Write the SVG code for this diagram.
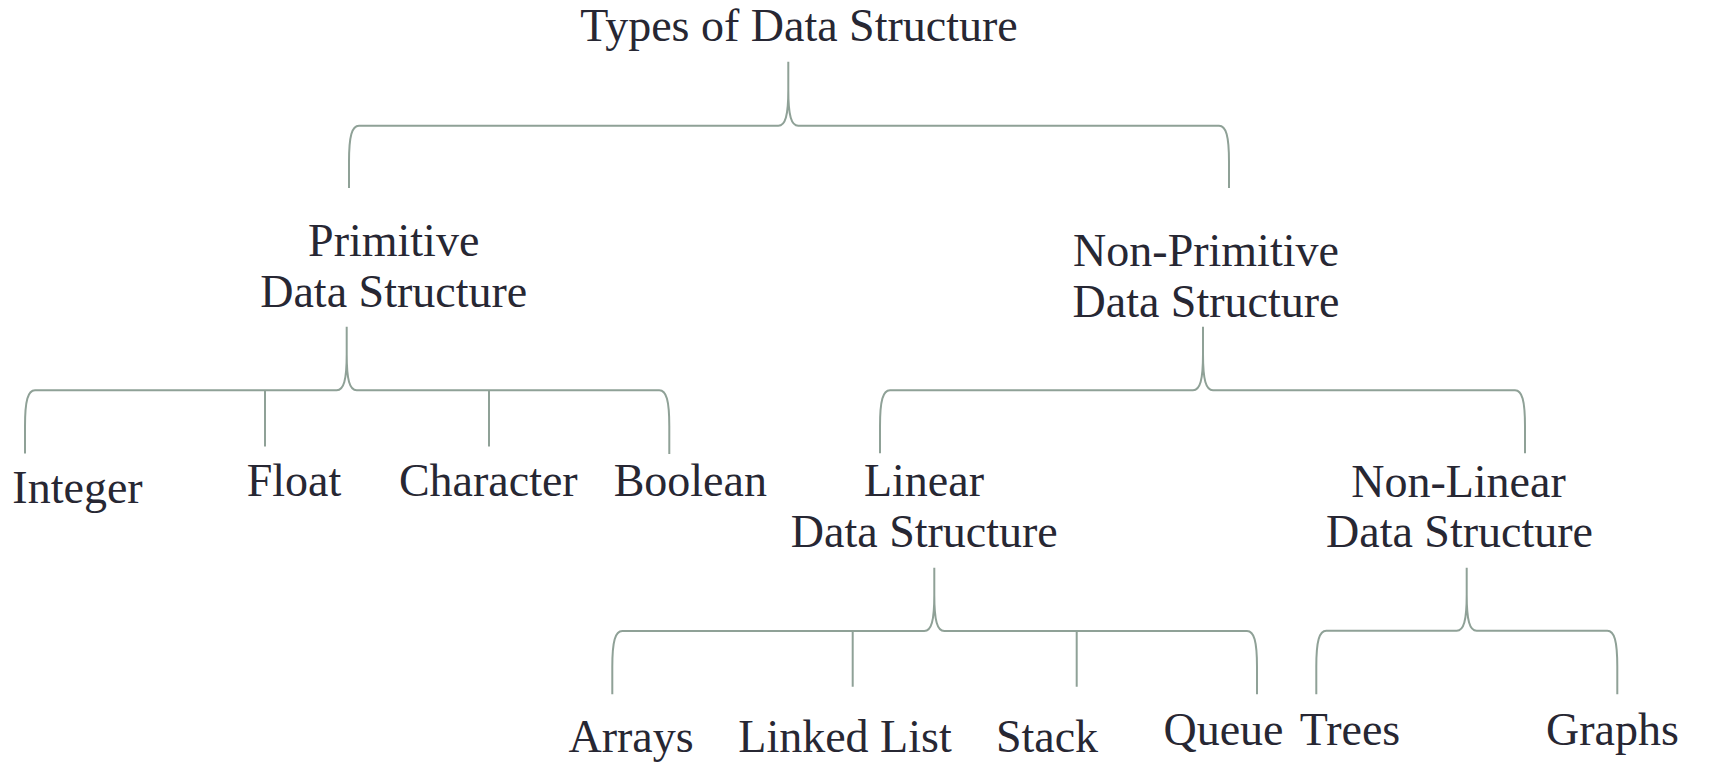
<svg xmlns="http://www.w3.org/2000/svg" width="1709" height="762" viewBox="0 0 1709 762">
<style>
text{font-family:"Liberation Serif","Times New Roman",serif;font-size:46px;fill:#272733;text-anchor:middle}
.c{fill:none;stroke:#8fa197;stroke-width:2}
</style>
<rect width="1709" height="762" fill="#ffffff"/>
<g id="connectors">
<path class="c" d="M349,188 V161.7 C349,135.7 352,125.7 359,125.7 H778.3 C785.3,125.7 788.3,115.7 788.3,89.7 V61.7 M788.3,89.7 C788.3,115.7 791.3,125.7 798.3,125.7 H1219 C1226,125.7 1229,135.7 1229,161.7 V188"/>
<path class="c" d="M25,453.5 V426.3 C25,400.3 28,390.3 35,390.3 H336.7 C343.7,390.3 346.7,380.3 346.7,354.3 V326.7 M346.7,354.3 C346.7,380.3 349.7,390.3 356.7,390.3 H659.3 C666.3,390.3 669.3,400.3 669.3,426.3 V454"/>
<path class="c" d="M265,390.3 V446.5 M489,390.3 V446.5"/>
<path class="c" d="M880,453.3 V426.3 C880,400.3 883,390.3 890,390.3 H1193 C1200,390.3 1203,380.3 1203,354.3 V326.7 M1203,354.3 C1203,380.3 1206,390.3 1213,390.3 H1515 C1522,390.3 1525,400.3 1525,426.3 V453.3"/>
<path class="c" d="M612.3,694.3 V667 C612.3,641 615.3,631 622.3,631 H924.3 C931.3,631 934.3,621 934.3,595 V567.7 M934.3,595 C934.3,621 937.3,631 944.3,631 H1247 C1254,631 1257,641 1257,667 V694.3"/>
<path class="c" d="M852.7,631 V686.7 M1076.7,631 V686.7"/>
<path class="c" d="M1316.3,694.3 V666.8 C1316.3,640.8 1319.3,630.8 1326.3,630.8 H1456.7 C1463.7,630.8 1466.7,620.8 1466.7,594.8 V567.7 M1466.7,594.8 C1466.7,620.8 1469.7,630.8 1476.7,630.8 H1607.3 C1614.3,630.8 1617.3,640.8 1617.3,666.8 V694.3"/>
</g>
<g id="root"><text x="799" y="40.5">Types of Data Structure</text></g>
<g id="primitive"><text x="393.7" y="255.5">Primitive</text><text x="393.7" y="307">Data Structure</text></g>
<g id="non-primitive"><text x="1206" y="266">Non-Primitive</text><text x="1206" y="317.3">Data Structure</text></g>
<g id="integer"><text x="77.5" y="503">Integer</text></g>
<g id="float"><text x="294" y="496">Float</text></g>
<g id="character"><text x="488.3" y="496">Character</text></g>
<g id="boolean"><text x="690.3" y="496">Boolean</text></g>
<g id="linear"><text x="924" y="496">Linear</text><text x="924.3" y="546.7">Data Structure</text></g>
<g id="non-linear"><text x="1458.5" y="496.5">Non-Linear</text><text x="1459.5" y="547">Data Structure</text></g>
<g id="arrays"><text x="631" y="752">Arrays</text></g>
<g id="linked-list"><text x="845" y="752">Linked List</text></g>
<g id="stack"><text x="1047" y="752">Stack</text></g>
<g id="queue"><text x="1223.5" y="745">Queue</text></g>
<g id="trees"><text x="1350" y="745">Trees</text></g>
<g id="graphs"><text x="1612.5" y="745">Graphs</text></g>
</svg>
